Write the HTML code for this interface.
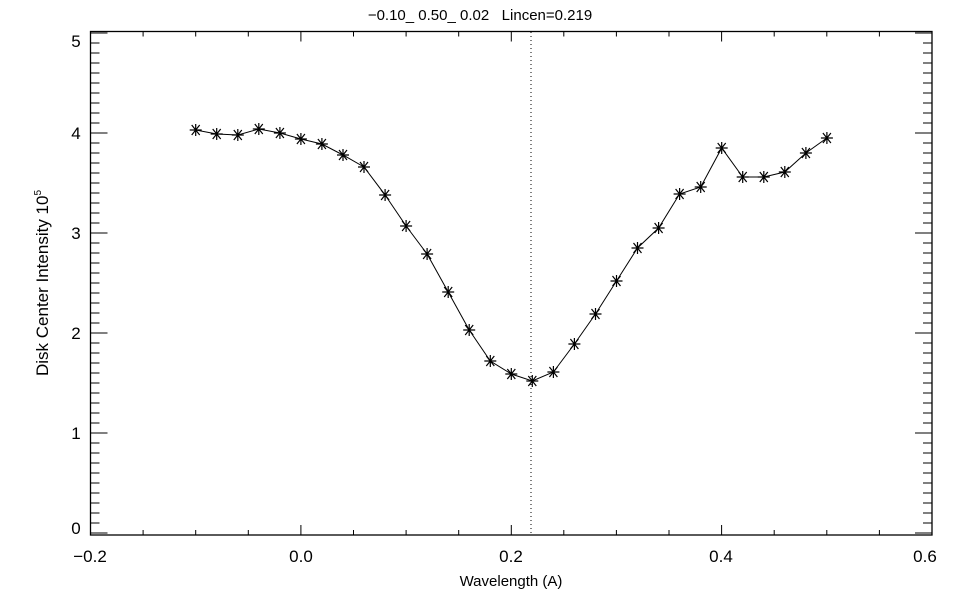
<!DOCTYPE html>
<html><head><meta charset="utf-8"><style>
html,body{margin:0;padding:0;background:#fff;}
svg{display:block;}
text{font-family:"Liberation Sans",sans-serif;fill:#000;}
</style></head><body>
<svg width="960" height="600" xmlns="http://www.w3.org/2000/svg">
<defs>
<g id="s" stroke="#000" stroke-width="1.2"><path d="M-6 0H6M0 -6V6M-4 -5L4 5M-4 5L4 -5"/></g>
</defs>
<rect width="960" height="600" fill="#fff"/>
<rect x="90.5" y="31.5" width="841.5" height="503.5" fill="none" stroke="#000" stroke-width="1.3"/>
<path stroke="#000" stroke-width="1" fill="none" d="
M90.5 535v-10M143.1 535v-5M195.7 535v-5M248.3 535v-5M300.9 535v-10M353.5 535v-5M406.1 535v-5M458.7 535v-5M511.3 535v-10M563.8 535v-5M616.4 535v-5M669 535v-5M721.6 535v-10M774.2 535v-5M826.8 535v-5M879.4 535v-5M932 535v-10
M90.5 31.5v10M143.1 31.5v5M195.7 31.5v5M248.3 31.5v5M300.9 31.5v10M353.5 31.5v5M406.1 31.5v5M458.7 31.5v5M511.3 31.5v10M563.8 31.5v5M616.4 31.5v5M669 31.5v5M721.6 31.5v10M774.2 31.5v5M826.8 31.5v5M879.4 31.5v5M932 31.5v10
M90.5 533h17M90.5 523h9M90.5 513h9M90.5 503h9M90.5 493h9M90.5 483h9M90.5 473h9M90.5 463h9M90.5 453h9M90.5 443h9
M90.5 433h17M90.5 423h9M90.5 413h9M90.5 403h9M90.5 393h9M90.5 383h9M90.5 373h9M90.5 363h9M90.5 353h9M90.5 343h9
M90.5 333h17M90.5 323h9M90.5 313h9M90.5 303h9M90.5 293h9M90.5 283h9M90.5 273h9M90.5 263h9M90.5 253h9M90.5 243h9
M90.5 233h17M90.5 223h9M90.5 213h9M90.5 203h9M90.5 193h9M90.5 183h9M90.5 173h9M90.5 163h9M90.5 153h9M90.5 143h9
M90.5 133h17M90.5 123h9M90.5 113h9M90.5 103h9M90.5 93h9M90.5 83h9M90.5 73h9M90.5 63h9M90.5 53h9M90.5 43h9M90.5 33h17
M932 533h-17M932 523h-9M932 513h-9M932 503h-9M932 493h-9M932 483h-9M932 473h-9M932 463h-9M932 453h-9M932 443h-9
M932 433h-17M932 423h-9M932 413h-9M932 403h-9M932 393h-9M932 383h-9M932 373h-9M932 363h-9M932 353h-9M932 343h-9
M932 333h-17M932 323h-9M932 313h-9M932 303h-9M932 293h-9M932 283h-9M932 273h-9M932 263h-9M932 253h-9M932 243h-9
M932 233h-17M932 223h-9M932 213h-9M932 203h-9M932 193h-9M932 183h-9M932 173h-9M932 163h-9M932 153h-9M932 143h-9
M932 133h-17M932 123h-9M932 113h-9M932 103h-9M932 93h-9M932 83h-9M932 73h-9M932 63h-9M932 53h-9M932 43h-9M932 33h-17"/>
<line x1="531" y1="32" x2="531" y2="535" stroke="#000" stroke-width="1" stroke-dasharray="1,3"/>
<polyline fill="none" stroke="#000" stroke-width="1" points="195.7,130 216.7,134 237.8,135 258.8,129 279.9,133 300.9,139 321.9,144 343,155 364,167 385.1,195 406.1,226 427.1,254 448.2,292 469.2,330 490.3,361 511.3,374 532.3,381 553.4,372 574.4,344 595.5,314 616.5,281 637.5,248 658.6,228 679.6,194 700.7,187 721.7,148 742.7,177 763.8,177 784.8,172 805.9,153 826.9,138"/>
<use href="#s" x="195.7" y="130"/><use href="#s" x="216.7" y="134"/><use href="#s" x="237.8" y="135"/><use href="#s" x="258.8" y="129"/><use href="#s" x="279.9" y="133"/><use href="#s" x="300.9" y="139"/><use href="#s" x="321.9" y="144"/><use href="#s" x="343" y="155"/><use href="#s" x="364" y="167"/><use href="#s" x="385.1" y="195"/><use href="#s" x="406.1" y="226"/><use href="#s" x="427.1" y="254"/><use href="#s" x="448.2" y="292"/><use href="#s" x="469.2" y="330"/><use href="#s" x="490.3" y="361"/><use href="#s" x="511.3" y="374"/><use href="#s" x="532.3" y="381"/><use href="#s" x="553.4" y="372"/><use href="#s" x="574.4" y="344"/><use href="#s" x="595.5" y="314"/><use href="#s" x="616.5" y="281"/><use href="#s" x="637.5" y="248"/><use href="#s" x="658.6" y="228"/><use href="#s" x="679.6" y="194"/><use href="#s" x="700.7" y="187"/><use href="#s" x="721.7" y="148"/><use href="#s" x="742.7" y="177"/><use href="#s" x="763.8" y="177"/><use href="#s" x="784.8" y="172"/><use href="#s" x="805.9" y="153"/><use href="#s" x="826.9" y="138"/>
<g font-size="17">
<text x="90" y="562" text-anchor="middle">−0.2</text>
<text x="301" y="562" text-anchor="middle">0.0</text>
<text x="511" y="562" text-anchor="middle">0.2</text>
<text x="721" y="562" text-anchor="middle">0.4</text>
<text x="925" y="562" text-anchor="middle">0.6</text>
<text x="76" y="534" text-anchor="middle">0</text>
<text x="76" y="439" text-anchor="middle">1</text>
<text x="76" y="339" text-anchor="middle">2</text>
<text x="76" y="239" text-anchor="middle">3</text>
<text x="76" y="139" text-anchor="middle">4</text>
<text x="76" y="47" text-anchor="middle">5</text>
</g>
<text x="480" y="20" text-anchor="middle" font-size="15" xml:space="preserve">−0.10_ 0.50_ 0.02   Lincen=0.219</text>
<text x="511" y="586" text-anchor="middle" font-size="15">Wavelength (A)</text>
<text transform="translate(48,283) rotate(-90)" text-anchor="middle" font-size="17">Disk Center Intensity 10<tspan font-size="10" dy="-7">5</tspan></text>
</svg>
</body></html>
